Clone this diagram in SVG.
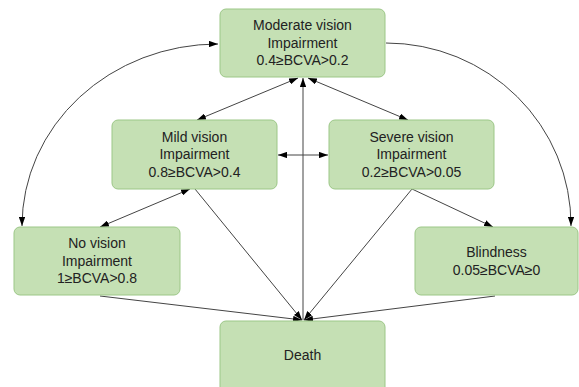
<svg xmlns="http://www.w3.org/2000/svg" width="579" height="387" viewBox="0 0 579 387">
<style>
.box{fill:#c5e0b4;stroke:#9cc787;stroke-width:1}
.t{font-family:"Liberation Sans",Arial,sans-serif;font-size:14px;fill:#222;text-anchor:middle}
.c{fill:none;stroke:#444;stroke-width:1}
</style>
<defs>
<marker id="ah" viewBox="0 0 10 7" refX="10" refY="3.5" markerWidth="9" markerHeight="6.3" markerUnits="userSpaceOnUse" orient="auto-start-reverse">
<path d="M0,0 L10,3.5 L0,7 z" fill="#000"/>
</marker>
</defs>
<rect width="579" height="387" fill="#fff"/>
<g id="connectors">
<path class="c" d="M218,44 A196 182 0 0 0 22,226" marker-start="url(#ah)" marker-end="url(#ah)"/>
<path class="c" d="M386,43 A185 182 0 0 1 571,226" marker-end="url(#ah)"/>
<line class="c" x1="197" y1="120" x2="298" y2="78" marker-start="url(#ah)" marker-end="url(#ah)"/>
<line class="c" x1="308" y1="78" x2="408" y2="120" marker-start="url(#ah)" marker-end="url(#ah)"/>
<line class="c" x1="278" y1="155" x2="328" y2="155" marker-start="url(#ah)" marker-end="url(#ah)"/>
<line class="c" x1="100" y1="227" x2="190" y2="189" marker-start="url(#ah)" marker-end="url(#ah)"/>
<line class="c" x1="412" y1="189" x2="493" y2="227" marker-end="url(#ah)"/>
<line class="c" x1="303" y1="320" x2="303" y2="78" marker-end="url(#ah)"/>
<line class="c" x1="195" y1="189" x2="302" y2="320" marker-end="url(#ah)"/>
<line class="c" x1="412" y1="189" x2="304" y2="320" marker-end="url(#ah)"/>
<line class="c" x1="100" y1="296" x2="302" y2="320" marker-end="url(#ah)"/>
<line class="c" x1="495" y1="296" x2="304" y2="320" marker-end="url(#ah)"/>
</g>
<g id="moderate">
<rect class="box" x="220" y="9" width="165" height="68" rx="6"/>
<text class="t" x="302.5" y="30">Moderate vision</text>
<text class="t" x="302.5" y="47.5">Impairment</text>
<text class="t" x="302.5" y="65">0.4≥BCVA&gt;0.2</text>
</g>
<g id="mild">
<rect class="box" x="112" y="120" width="165" height="69" rx="6"/>
<text class="t" x="194.5" y="141.5">Mild vision</text>
<text class="t" x="194.5" y="159">Impairment</text>
<text class="t" x="194.5" y="176.5">0.8≥BCVA&gt;0.4</text>
</g>
<g id="severe">
<rect class="box" x="329" y="120" width="165" height="69" rx="6"/>
<text class="t" x="411.5" y="141.5">Severe vision</text>
<text class="t" x="411.5" y="159">Impairment</text>
<text class="t" x="411.5" y="176.5">0.2≥BCVA&gt;0.05</text>
</g>
<g id="novision">
<rect class="box" x="14" y="227" width="166" height="68" rx="6"/>
<text class="t" x="97" y="248">No vision</text>
<text class="t" x="97" y="265.5">Impairment</text>
<text class="t" x="97" y="283">1≥BCVA&gt;0.8</text>
</g>
<g id="blindness">
<rect class="box" x="415" y="227" width="163" height="68" rx="6"/>
<text class="t" x="496.5" y="257">Blindness</text>
<text class="t" x="496.5" y="274.5">0.05≥BCVA≥0</text>
</g>
<g id="death">
<rect class="box" x="220" y="321" width="165" height="75" rx="6"/>
<text class="t" x="302.5" y="360">Death</text>
</g>
</svg>
